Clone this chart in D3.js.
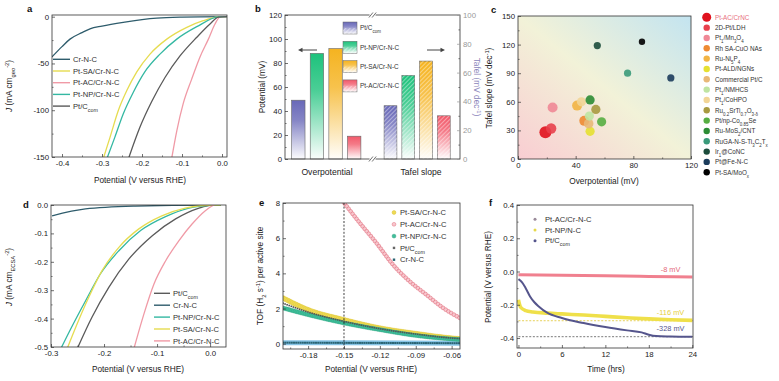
<!DOCTYPE html>
<html>
<head>
<meta charset="utf-8">
<script src="https://cdn.jsdelivr.net/npm/d3@7"></script>
<style>
  body { margin: 0; background: #fff; }
  svg text { font-family: "Liberation Sans", Arial, sans-serif; }
</style>
</head>
<body>
<svg id="fig" width="779" height="381"></svg>
<script>
// ---------- data ----------
// a: polarisation curves, [potential V, J mA cm-2 geo]
var aCrNC = [[0.012,0],[-0.1,-0.5],[-0.163,-1.5],[-0.247,-6],[-0.3,-10],[-0.33,-13],[-0.35,-17],[-0.38,-24],[-0.4,-32],[-0.425,-43]];
var aPtSA = [[0.012,0],[-0.009,-0.3],[-0.047,-4.3],[-0.088,-11.4],[-0.138,-24],[-0.18,-40],[-0.213,-59],[-0.238,-79],[-0.259,-100],[-0.28,-129],[-0.297,-152]];
var aPtNP = [[0.012,0],[-0.009,-0.3],[-0.063,-10.7],[-0.113,-24],[-0.155,-40],[-0.193,-59],[-0.222,-81],[-0.247,-104],[-0.268,-129],[-0.288,-152]];
var aPtC  = [[0.012,0],[-0.009,-0.5],[-0.03,-7.8],[-0.063,-22],[-0.105,-42],[-0.1425,-65],[-0.176,-91],[-0.205,-118],[-0.234,-152]];
var aPtAC = [[0.012,0],[-0.005,-0.5],[-0.0175,-7.8],[-0.034,-24],[-0.055,-43],[-0.076,-67],[-0.097,-93],[-0.113,-122],[-0.126,-152]];
var aXTicks = [-0.4,-0.3,-0.2,-0.1,0.0], aXLabels = ["-0.4","-0.3","-0.2","-0.1","0.0"];
var aYTicks = [0,-50,-100,-150], aYLabels = ["0","-50","-100","-150"];

// b: overpotential (mV, left axis) and Tafel slope (mV dec-1, right axis)
var bSamples = ["Pt/C_{com}","Pt-NP/Cr-N-C","Pt-SA/Cr-N-C","Pt-AC/Cr-N-C"];
var bOverpot = [49, 88, 92, 19];
var bTafel   = [37, 58, 68, 30];
var bLeftTicks = [0,20,40,60,80,100,120];
var bRightTicks = [0,20,40,60,80,100];

// c: comparison with reported catalysts
var cNames = ["Pt-AC/CrNC","2D-Pt/LDH","Pt_{1}/Mn_{3}O_{4}","Rh SA-CuO NAs","Ru-Ni_{5}P_{4}","Pt-ALD/NGNs","Commercial Pt/C","Pt_{1}/NMHCS","Pt_{1}/CoHPO","Ru_{0.2}SrTi_{0.7}O_{3-δ}","Pt/np-Co_{0.85}Se","Ru-MoS_{2}/CNT","RuGA-N-S-Ti_{3}C_{2}T_{x}","Ir_{1}@CoNC","Pt@Fe-N-C","Pt-SA/MoO_{x}"];
var cOverpot = [19, 23, 24, 46, 41, 50, 49, 49.5, 44, 54, 58, 50, 76, 55, 106, 86];
var cTafel   = [28, 32, 54, 40, 56, 29, 37, 45, 60, 52, 39, 62, 90, 119, 85, 123];
var cXTicks = [0,40,80,120], cYTicks = [0,30,60,90,120,150];

// d: ECSA-normalised curves, [potential V, J mA cm-2 ECSA]
var dPtC  = [[0.02,0],[0.0,-0.001],[-0.021,-0.011],[-0.065,-0.049],[-0.109,-0.108],[-0.153,-0.19],[-0.191,-0.29],[-0.223,-0.396],[-0.251,-0.508]];
var dCrNC = [[0.02,0],[0.0,0],[-0.141,-0.004],[-0.235,-0.014],[-0.298,-0.038]];
var dPtNP = [[0.02,0],[0.0,-0.001],[-0.04,-0.011],[-0.084,-0.041],[-0.131,-0.09],[-0.172,-0.161],[-0.207,-0.243],[-0.235,-0.338],[-0.26,-0.426],[-0.282,-0.508]];
var dPtSA = [[0.02,0],[0.004,0],[-0.047,-0.011],[-0.091,-0.038],[-0.135,-0.085],[-0.172,-0.149],[-0.204,-0.232],[-0.229,-0.326],[-0.251,-0.42],[-0.27,-0.508]];
var dPtAC = [[0.02,0.01],[0.007,0],[-0.009,-0.02],[-0.034,-0.067],[-0.059,-0.126],[-0.084,-0.197],[-0.106,-0.279],[-0.125,-0.385],[-0.144,-0.508]];
var dXTicks = [-0.3,-0.2,-0.1,0.0], dXLabels = ["-0.3","-0.2","-0.1","0.0"];
var dYTicks = [0,-0.1,-0.2,-0.3,-0.4,-0.5], dYLabels = ["0.0","-0.1","-0.2","-0.3","-0.4","-0.5"];

// e: TOF per active site, [potential V, TOF s-1]
var ePtSA = [[-0.201,2.6],[-0.18,1.93],[-0.15,1.36],[-0.12,0.89],[-0.089,0.57],[-0.06,0.32],[-0.053,0.28]];
var ePtAC = [[-0.151,8.1],[-0.1367,6.86],[-0.1228,5.72],[-0.109,4.49],[-0.095,3.54],[-0.081,2.78],[-0.067,2.03],[-0.053,1.46]];
var ePtNP = [[-0.201,2.03],[-0.18,1.65],[-0.15,1.18],[-0.12,0.8],[-0.09,0.47],[-0.06,0.27],[-0.053,0.24]];
var ePtC  = [[-0.201,2.3],[-0.18,1.8],[-0.15,1.27],[-0.12,0.85],[-0.09,0.55],[-0.06,0.32],[-0.053,0.29]];
var eCrNC = [[-0.201,0.06],[-0.15,0.05],[-0.1,0.04],[-0.053,0.03]];
var eXTicks = [-0.18,-0.15,-0.12,-0.09,-0.06], eXLabels = ["-0.18","-0.15","-0.12","-0.09","-0.06"];
var eYTicks = [0,2,4,6,8];
var eMark = -0.15;

// f: chronopotentiometry, time (h) and potential (V)
var fPtACt = [0,6,12,18,24],  fPtACv = [-0.02,-0.022,-0.026,-0.03,-0.033];
var fPtNPt = [0,0.3,1,2,4,6,9,12,15,18,21,24];
var fPtNPv = [-0.17,-0.215,-0.235,-0.243,-0.25,-0.255,-0.262,-0.27,-0.278,-0.285,-0.29,-0.294];
var fPtCt  = [0,0.5,1,1.6,2.2,2.8,3.9,6,9,12,15,17,18,19,21,24];
var fPtCv  = [-0.046,-0.065,-0.1,-0.15,-0.185,-0.21,-0.246,-0.28,-0.31,-0.334,-0.354,-0.366,-0.38,-0.388,-0.391,-0.393];
var fRefNP = -0.296, fRefPtC = -0.392;
var fNotes = ["-8 mV","-116 mV","-328 mV"];
var fXTicks = [0,6,12,18,24], fYTicks = [0.4,0.2,0,-0.2,-0.4], fYLabels = ["0.4","0.2","0.0","-0.2","-0.4"];

// ---------- helpers ----------
var svg = d3.select("#fig");
var defs = svg.append("defs");
var TICK = 7.8, TITLE = 8.3;

function rich(t, s) {
  var re = /([_^*])\{([^}]*)\}|([^_^*]+)/g, m;
  while ((m = re.exec(s)) !== null) {
    if (m[3] !== undefined) t.append("tspan").text(m[3]);
    else if (m[1] === "_") t.append("tspan").attr("baseline-shift", "sub").attr("font-size", "70%").text(m[2]);
    else if (m[1] === "^") t.append("tspan").attr("baseline-shift", "super").attr("font-size", "70%").text(m[2]);
    else t.append("tspan").attr("font-style", "italic").text(m[2]);
  }
  return t;
}

function frame(g, r) {
  g.append("rect").attr("x", r.x0).attr("y", r.y0)
    .attr("width", r.x1 - r.x0).attr("height", r.y1 - r.y0)
    .attr("fill", "none").attr("stroke", "#333").attr("stroke-width", 0.8);
}

function clip(id, r) {
  defs.append("clipPath").attr("id", id).append("rect")
    .attr("x", r.x0).attr("y", r.y0).attr("width", r.x1 - r.x0).attr("height", r.y1 - r.y0);
  return "url(#" + id + ")";
}

function axis(g, kind, scale, vals, labels, tx, ty, minorVals) {
  var mk = kind === "b" ? d3.axisBottom : kind === "l" ? d3.axisLeft : d3.axisRight;
  var a = g.append("g").attr("transform", "translate(" + tx + "," + ty + ")")
    .call(mk(scale).tickValues(vals).tickSize(-3).tickPadding(kind === "b" ? 3.5 : 3)
      .tickFormat(function(d, i) { return labels[i]; }));
  a.select(".domain").remove();
  a.selectAll("text").attr("font-size", TICK).attr("fill", "#222");
  a.selectAll("line").attr("stroke", "#333").attr("stroke-width", 0.7);
  if (minorVals) {
    var m = g.append("g").attr("transform", "translate(" + tx + "," + ty + ")")
      .call(mk(scale).tickValues(minorVals).tickSize(-1.6).tickFormat(""));
    m.select(".domain").remove();
    m.selectAll("line").attr("stroke", "#333").attr("stroke-width", 0.6);
  }
  return a;
}

function title(g, x, y, s, rot, color) {
  var t = g.append("text").attr("text-anchor", "middle").attr("font-size", TITLE)
    .attr("fill", color || "#222")
    .attr("transform", "translate(" + x + "," + y + ")" + (rot ? " rotate(" + rot + ")" : ""));
  return rich(t, s);
}

function letter(x, y, s) {
  svg.append("text").attr("x", x).attr("y", y).attr("font-size", 9.5)
    .attr("font-weight", "bold").attr("fill", "#111").text(s);
}

function sortX(pts) { return pts.slice().sort(function(p, q) { return p[0] - q[0]; }); }

function sampleAlong(g, pts, xs, ys, step) {
  var line = d3.line().x(function(d) { return xs(d[0]); }).y(function(d) { return ys(d[1]); }).curve(d3.curveMonotoneX);
  var p = g.append("path").attr("d", line(sortX(pts))).attr("fill", "none");
  var node = p.node(), L = node.getTotalLength(), out = [];
  for (var s = 0; s <= L; s += step) { var q = node.getPointAtLength(s); out.push([q.x, q.y]); }
  p.remove();
  return out;
}

// ---------- panel a ----------
(function() {
  var r = {x0: 52, x1: 227, y0: 15, y1: 157};
  var x = d3.scaleLinear().domain([-0.425, 0.0125]).range([r.x0, r.x1]);
  var y = d3.scaleLinear().domain([-150, 1.8]).range([r.y1, r.y0]);
  var g = svg.append("g");
  var series = [
    {name: "Cr-N-C", d: aCrNC, c: "#2e5c6c"},
    {name: "Pt-SA/Cr-N-C", d: aPtSA, c: "#e6dc50"},
    {name: "Pt-AC/Cr-N-C", d: aPtAC, c: "#f09aa6"},
    {name: "Pt-NP/Cr-N-C", d: aPtNP, c: "#34b8a2"},
    {name: "Pt/C_{com}", d: aPtC, c: "#5a5a5a"}
  ];
  var line = d3.line().x(function(d) { return x(d[0]); }).y(function(d) { return y(d[1]); }).curve(d3.curveMonotoneX);
  var cg = g.append("g").attr("clip-path", clip("ca", r));
  series.forEach(function(s) {
    cg.append("path").attr("d", line(sortX(s.d))).attr("fill", "none")
      .attr("stroke", s.c).attr("stroke-width", 1.3);
  });
  frame(g, r);
  axis(g, "b", x, aXTicks, aXLabels, 0, r.y1, [-0.35,-0.25,-0.15,-0.05]);
  axis(g, "l", y, aYTicks, aYLabels, r.x0, 0, [-25,-75,-125]);
  var lg = g.append("g");
  series.forEach(function(s, i) {
    var yy = 59.3 + i * 11.7;
    lg.append("line").attr("x1", 53).attr("x2", 70).attr("y1", yy).attr("y2", yy)
      .attr("stroke", s.c).attr("stroke-width", 1.4);
    rich(lg.append("text").attr("x", 73).attr("y", yy + 2.7).attr("font-size", 7.6).attr("fill", "#333"), s.name);
  });
  title(g, 12, 86, "*{J} (mA cm_{geo}^{-2})", -90);
  title(g, 140, 183, "Potential (V versus RHE)");
  letter(27, 12, "a");
})();

// ---------- panel b ----------
(function() {
  var r = {x0: 285, x1: 460, y0: 15, y1: 159};
  var yL = d3.scaleLinear().domain([0, 120]).range([r.y1, r.y0]);
  var yR = d3.scaleLinear().domain([0, 100]).range([r.y1, r.y0]);
  var xa = d3.scaleBand().domain(bSamples).range([289, 363.5]).paddingInner(0.28).paddingOuter(0.14);
  var xb = d3.scaleBand().domain(bSamples).range([381.6, 452.7]).paddingInner(0.28).paddingOuter(0.14);
  var cols = ["#6868b8", "#1ec27c", "#f5b320", "#f2596a"];
  var g = svg.append("g");

  cols.forEach(function(c, i) {
    var gr = defs.append("linearGradient").attr("id", "bg" + i).attr("x1", 0).attr("y1", 0).attr("x2", 0).attr("y2", 1);
    gr.append("stop").attr("offset", "0%").attr("stop-color", c).attr("stop-opacity", 1);
    gr.append("stop").attr("offset", "35%").attr("stop-color", c).attr("stop-opacity", 0.8);
    gr.append("stop").attr("offset", "100%").attr("stop-color", c).attr("stop-opacity", 0.02);
  });
  var pat = defs.append("pattern").attr("id", "hatch").attr("patternUnits", "userSpaceOnUse")
    .attr("width", 3).attr("height", 3).attr("patternTransform", "rotate(45)");
  pat.append("line").attr("x1", 0).attr("y1", 0).attr("x2", 0).attr("y2", 3)
    .attr("stroke", "#fff").attr("stroke-width", 1.1).attr("stroke-opacity", 0.75);

  bSamples.forEach(function(s, i) {
    g.append("rect").attr("x", xa(s)).attr("width", xa.bandwidth())
      .attr("y", yL(bOverpot[i])).attr("height", yL(0) - yL(bOverpot[i]))
      .attr("fill", "url(#bg" + i + ")").attr("stroke", "#666").attr("stroke-width", 0.6);
    g.append("rect").attr("x", xb(s)).attr("width", xb.bandwidth())
      .attr("y", yR(bTafel[i])).attr("height", yR(0) - yR(bTafel[i]))
      .attr("fill", "url(#bg" + i + ")").attr("stroke", "#666").attr("stroke-width", 0.6);
    g.append("rect").attr("x", xb(s)).attr("width", xb.bandwidth())
      .attr("y", yR(bTafel[i])).attr("height", yR(0) - yR(bTafel[i]))
      .attr("fill", "url(#hatch)");
  });

  frame(g, r);
  var bx = (xa.range()[1] + xb.range()[0]) / 2;
  [r.y0, r.y1].forEach(function(yy) {
    g.append("rect").attr("x", bx - 3).attr("y", yy - 1.5).attr("width", 6).attr("height", 3).attr("fill", "#fff");
    [-1.6, 1.6].forEach(function(o) {
      g.append("line").attr("x1", bx + o - 2).attr("x2", bx + o + 2).attr("y1", yy + 2.5).attr("y2", yy - 2.5)
        .attr("stroke", "#333").attr("stroke-width", 0.7);
    });
  });
  axis(g, "l", yL, bLeftTicks, bLeftTicks.map(String), r.x0, 0, [10,30,50,70,90,110]);
  var ra = axis(g, "r", yR, bRightTicks, bRightTicks.map(String), r.x1, 0, [10,30,50,70,90]);
  ra.selectAll("text").attr("fill", "#999");
  ra.selectAll("line").attr("stroke", "#999");

  // legend
  bSamples.forEach(function(s, i) {
    var yy = 22 + i * 19.3;
    g.append("rect").attr("x", 343).attr("y", yy).attr("width", 14).attr("height", 12)
      .attr("fill", "url(#bg" + i + ")").attr("stroke", "#666").attr("stroke-width", 0.5);
    g.append("rect").attr("x", 343).attr("y", yy + 6).attr("width", 14).attr("height", 6).attr("fill", "url(#hatch)");
    rich(g.append("text").attr("x", 360).attr("y", yy + 8.3).attr("font-size", 6.4).attr("fill", "#333"), s);
  });
  // direction arrows
  var arr = [[317, 298], [427, 445]];
  arr.forEach(function(a) {
    var dir = a[1] > a[0] ? 1 : -1;
    g.append("line").attr("x1", a[0]).attr("x2", a[1] - dir * 3).attr("y1", 50).attr("y2", 50)
      .attr("stroke", "#444").attr("stroke-width", 1);
    g.append("path").attr("d", "M" + a[1] + ",50 l" + (-dir * 4.5) + ",-2.2 l0,4.4 z").attr("fill", "#444");
  });
  g.append("text").attr("x", 327).attr("y", 175).attr("text-anchor", "middle").attr("font-size", 8.6).attr("fill", "#222").text("Overpotential");
  g.append("text").attr("x", 421).attr("y", 175).attr("text-anchor", "middle").attr("font-size", 8.6).attr("fill", "#222").text("Tafel slope");
  title(g, 265, 87, "Potential (mV)", -90);
  title(g, 474, 87, "Tafel (mV dec^{-1})", 90, "#8b86bb");
  letter(255, 12, "b");
})();

// ---------- panel c ----------
(function() {
  var r = {x0: 518, x1: 691, y0: 16, y1: 159};
  var x = d3.scaleLinear().domain([0, 120]).range([r.x0, r.x1]);
  var y = d3.scaleLinear().domain([0, 150]).range([r.y1, r.y0]);
  var cols = ["#e0121e","#e8404c","#f08896","#ee8a32","#f2b444","#e6e032","#e8b878","#bfe4a2","#f2d596","#a89a40","#56ae42","#2c8c34","#3a9a7a","#1c4c3c","#1c3c5c","#000000"];
  var rad  = [6, 5.2, 5, 5, 5, 4.6, 4.8, 4.6, 4.6, 4.6, 4.6, 4.6, 3.6, 3.6, 3.6, 3.2];
  var g = svg.append("g");
  var gr = defs.append("linearGradient").attr("id", "cbg").attr("x1", 0).attr("y1", 1).attr("x2", 1).attr("y2", 0);
  gr.append("stop").attr("offset", "0%").attr("stop-color", "#f9cdd2");
  gr.append("stop").attr("offset", "50%").attr("stop-color", "#f2f2d8");
  gr.append("stop").attr("offset", "100%").attr("stop-color", "#c3e4f0");
  g.append("rect").attr("x", r.x0).attr("y", r.y0).attr("width", r.x1 - r.x0).attr("height", r.y1 - r.y0).attr("fill", "url(#cbg)");
  cNames.forEach(function(n, i) {
    g.append("circle").attr("cx", x(cOverpot[i])).attr("cy", y(cTafel[i])).attr("r", rad[i])
      .attr("fill", cols[i]).attr("fill-opacity", 0.9);
  });
  frame(g, r);
  axis(g, "b", x, cXTicks, cXTicks.map(String), 0, r.y1, [20,60,100]);
  axis(g, "l", y, cYTicks, cYTicks.map(String), r.x0, 0, [15,45,75,105,135]);
  cNames.forEach(function(n, i) {
    var yy = 17.3 + i * 10.33;
    g.append("circle").attr("cx", 706.7).attr("cy", yy).attr("r", i === 0 ? 4.5 : 3.2).attr("fill", cols[i]);
    rich(g.append("text").attr("x", 715).attr("y", yy + 2.3).attr("font-size", 6.3)
      .attr("fill", i === 0 ? "#e8707e" : "#333"), n);
  });
  title(g, 492, 88, "Tafel slope (mV dec^{-1})", -90);
  title(g, 604, 184, "Overpotential (mV)");
  letter(491, 13, "c");
})();

// ---------- panel d ----------
(function() {
  var r = {x0: 51, x1: 226, y0: 205, y1: 347};
  var x = d3.scaleLinear().domain([-0.3, 0.03]).range([r.x0, r.x1]);
  var y = d3.scaleLinear().domain([-0.5, 0.0]).range([r.y1, r.y0]);
  var g = svg.append("g");
  var series = [
    {name: "Pt/C_{com}", d: dPtC, c: "#5a5a5a"},
    {name: "Cr-N-C", d: dCrNC, c: "#2e5c6c"},
    {name: "Pt-NP/Cr-N-C", d: dPtNP, c: "#34b8a2"},
    {name: "Pt-SA/Cr-N-C", d: dPtSA, c: "#e6dc50"},
    {name: "Pt-AC/Cr-N-C", d: dPtAC, c: "#f09aa6"}
  ];
  var line = d3.line().x(function(d) { return x(d[0]); }).y(function(d) { return y(d[1]); }).curve(d3.curveMonotoneX);
  var cg = g.append("g").attr("clip-path", clip("cd", r));
  series.forEach(function(s) {
    cg.append("path").attr("d", line(sortX(s.d))).attr("fill", "none")
      .attr("stroke", s.c).attr("stroke-width", 1.3);
  });
  frame(g, r);
  axis(g, "b", x, dXTicks, dXLabels, 0, r.y1, [-0.25,-0.15,-0.05]);
  axis(g, "l", y, dYTicks, dYLabels, r.x0, 0, [-0.05,-0.15,-0.25,-0.35,-0.45]);
  series.forEach(function(s, i) {
    var yy = 293.3 + i * 11.9;
    g.append("line").attr("x1", 154).attr("x2", 170).attr("y1", yy).attr("y2", yy)
      .attr("stroke", s.c).attr("stroke-width", 1.4);
    rich(g.append("text").attr("x", 173).attr("y", yy + 2.7).attr("font-size", 7.6).attr("fill", "#333"), s.name);
  });
  title(g, 12, 277, "*{J} (mA cm_{ECSA}^{-2})", -90);
  title(g, 138, 372, "Potential (V versus RHE)");
  letter(23, 208, "d");
})();

// ---------- panel e ----------
(function() {
  var r = {x0: 283, x1: 460, y0: 203, y1: 349};
  var x = d3.scaleLinear().domain([-0.201, -0.053]).range([r.x0, r.x1]);
  var y = d3.scaleLinear().domain([-0.3, 8]).range([r.y1, r.y0]);
  var g = svg.append("g");
  var cg = g.append("g").attr("clip-path", clip("ce", r));
  var crLine = d3.line().x(function(d) { return x(d[0]); }).y(function(d) { return y(d[1]); });
  cg.append("path").attr("d", crLine(eCrNC)).attr("fill", "none").attr("stroke", "#86c4e6").attr("stroke-width", 5);
  sampleAlong(cg, eCrNC, x, y, 2.2).forEach(function(p) {
    cg.append("rect").attr("x", p[0] - 1).attr("y", p[1] - 1).attr("width", 2).attr("height", 2).attr("fill", "#2a6474");
  });
  sampleAlong(cg, ePtSA, x, y, 1.8).forEach(function(p) {
    cg.append("circle").attr("cx", p[0]).attr("cy", p[1]).attr("r", 2.4).attr("fill", "#efdb55").attr("stroke", "#d7bf2c").attr("stroke-width", 0.3);
  });
  sampleAlong(cg, ePtNP, x, y, 1.8).forEach(function(p) {
    cg.append("circle").attr("cx", p[0]).attr("cy", p[1]).attr("r", 2.1).attr("fill", "#3fbf9a").attr("stroke", "#2a9c7c").attr("stroke-width", 0.3);
  });
  sampleAlong(cg, ePtC, x, y, 2.2).forEach(function(p) {
    cg.append("rect").attr("x", p[0] - 0.8).attr("y", p[1] - 0.8).attr("width", 1.6).attr("height", 1.6).attr("fill", "#555");
  });
  sampleAlong(cg, ePtAC, x, y, 3.2).forEach(function(p) {
    cg.append("circle").attr("cx", p[0]).attr("cy", p[1]).attr("r", 1.9).attr("fill", "#f8c6cd").attr("stroke", "#e0707f").attr("stroke-width", 0.6);
  });
  g.append("line").attr("x1", x(eMark)).attr("x2", x(eMark)).attr("y1", r.y0).attr("y2", r.y1)
    .attr("stroke", "#111").attr("stroke-width", 0.8).attr("stroke-dasharray", "2,1.6");
  frame(g, r);
  axis(g, "b", x, eXTicks, eXLabels, 0, r.y1, [-0.195,-0.165,-0.135,-0.105,-0.075]);
  axis(g, "l", y, eYTicks, eYTicks.map(String), r.x0, 0, [1,3,5,7]);
  var leg = [
    {name: "Pt-SA/Cr-N-C", f: "#efdb55", s: "#d7bf2c", sq: false},
    {name: "Pt-AC/Cr-N-C", f: "#f8c6cd", s: "#e0707f", sq: false},
    {name: "Pt-NP/Cr-N-C", f: "#3fbf9a", s: "#2a9c7c", sq: false},
    {name: "Pt/C_{com}", f: "#666", s: "#666", sq: true},
    {name: "Cr-N-C", f: "#2a6474", s: "#2a6474", sq: true}
  ];
  leg.forEach(function(l, i) {
    var yy = 212.5 + i * 11.8;
    if (l.sq) g.append("rect").attr("x", 392.8).attr("y", yy - 1.2).attr("width", 2.4).attr("height", 2.4).attr("fill", l.f);
    else g.append("circle").attr("cx", 394).attr("cy", yy).attr("r", 1.9).attr("fill", l.f).attr("stroke", l.s).attr("stroke-width", 0.5);
    rich(g.append("text").attr("x", 400).attr("y", yy + 2.7).attr("font-size", 7.6).attr("fill", "#333"), l.name);
  });
  title(g, 263, 276, "TOF (H_{2} s^{-1}) per active site", -90);
  title(g, 371, 372, "Potential (V versus RHE)");
  letter(259, 206, "e");
})();

// ---------- panel f ----------
(function() {
  var r = {x0: 517, x1: 693, y0: 205, y1: 348};
  var x = d3.scaleLinear().domain([-0.2, 24.1]).range([r.x0, r.x1]);
  var y = d3.scaleLinear().domain([-0.46, 0.4]).range([r.y1, r.y0]);
  var g = svg.append("g");
  var cg = g.append("g").attr("clip-path", clip("cf", r));
  var line = d3.line().x(function(d) { return x(d[0]); }).y(function(d) { return y(d[1]); }).curve(d3.curveMonotoneX);
  function pairs(t, v) { return t.map(function(tt, i) { return [tt, v[i]]; }); }
  cg.append("line").attr("x1", x(0)).attr("x2", r.x1).attr("y1", y(fRefNP)).attr("y2", y(fRefNP))
    .attr("stroke", "#e0c530").attr("stroke-width", 0.8).attr("stroke-dasharray", "2,1.6");
  cg.append("line").attr("x1", x(0)).attr("x2", r.x1).attr("y1", y(fRefPtC)).attr("y2", y(fRefPtC))
    .attr("stroke", "#555").attr("stroke-width", 0.8).attr("stroke-dasharray", "2,1.6");
  cg.append("path").attr("d", line(pairs(fPtACt, fPtACv))).attr("fill", "none").attr("stroke", "#f0808f").attr("stroke-width", 3);
  cg.append("path").attr("d", line(pairs(fPtNPt, fPtNPv))).attr("fill", "none").attr("stroke", "#efe04a").attr("stroke-width", 3.6);
  cg.append("path").attr("d", line(pairs(fPtCt, fPtCv))).attr("fill", "none").attr("stroke", "#55558c").attr("stroke-width", 2);
  frame(g, r);
  axis(g, "b", x, fXTicks, fXTicks.map(String), 0, r.y1, [3,9,15,21]);
  axis(g, "l", y, fYTicks, fYLabels, r.x0, 0, [0.3,0.1,-0.1,-0.3]);
  var noteCols = ["#e46a7a", "#e6cf3a", "#55558c"];
  var noteY = [fPtACv[fPtACv.length - 1], fPtNPv[fPtNPv.length - 1], fPtCv[fPtCv.length - 1]];
  var noteOff = [-5, -5.5, -5.5];
  fNotes.forEach(function(n, i) {
    g.append("text").attr("x", x(21)).attr("y", y(noteY[i]) + noteOff[i]).attr("text-anchor", "middle")
      .attr("font-size", 7.4).attr("fill", noteCols[i]).text(n);
  });
  var leg = [
    {name: "Pt-AC/Cr-N-C", c: "#9a8a9a"},
    {name: "Pt-NP/N-C", c: "#e6d84a"},
    {name: "Pt/C_{com}", c: "#55558c"}
  ];
  leg.forEach(function(l, i) {
    var yy = 219.3 + i * 10.7;
    g.append("circle").attr("cx", 535).attr("cy", yy).attr("r", 1.5).attr("fill", l.c);
    rich(g.append("text").attr("x", 545).attr("y", yy + 2.7).attr("font-size", 7.6).attr("fill", "#333"), l.name);
  });
  title(g, 491, 277, "Potential (V versus RHE)", -90);
  title(g, 606, 372, "Time (hrs)");
  letter(489, 206, "f");
})();
</script>
</body>
</html>
